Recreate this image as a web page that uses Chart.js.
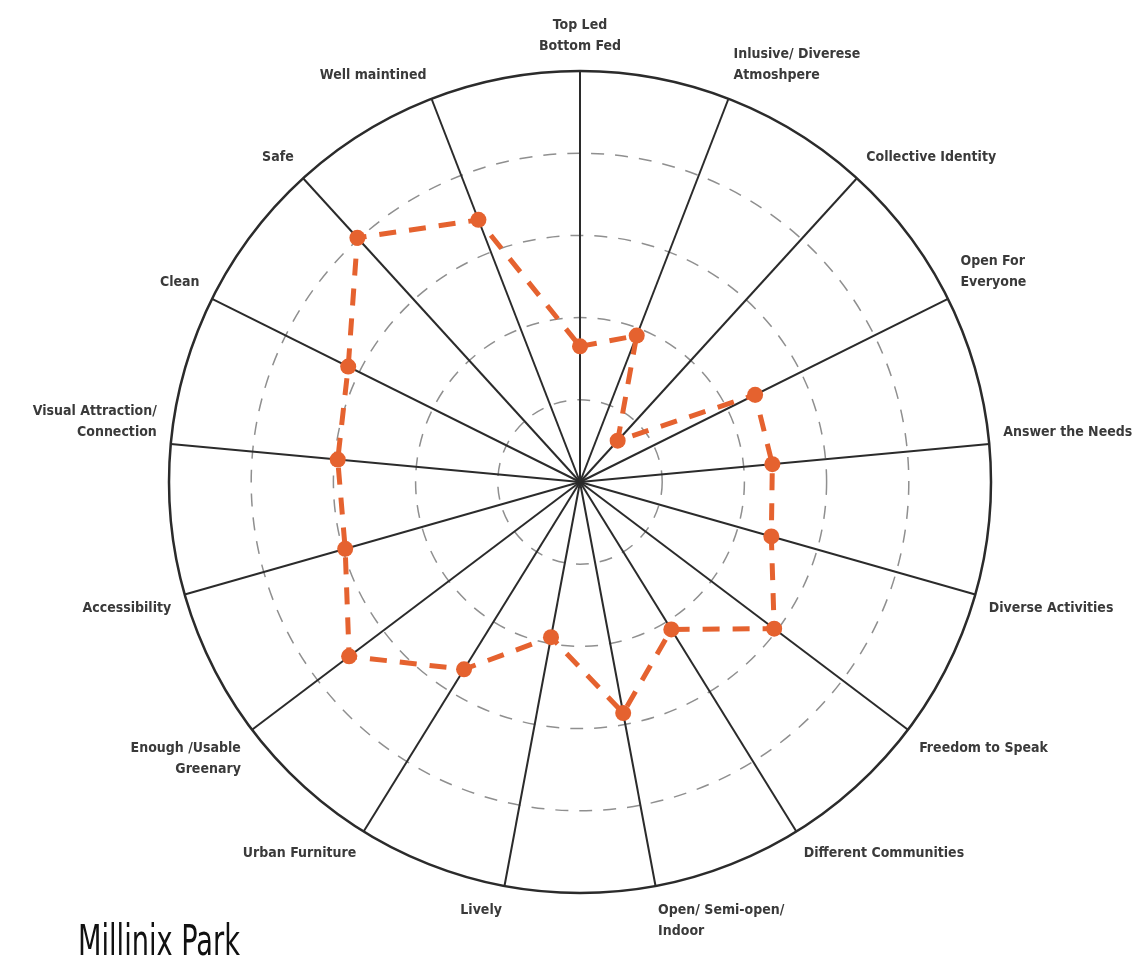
<!DOCTYPE html>
<html>
<head>
<meta charset="utf-8">
<script src="https://cdn.jsdelivr.net/npm/chart.js@4"></script>
<style>
  html, body { margin: 0; padding: 0; background: #fff; }
  #wrap { position: relative; width: 1141px; height: 960px; overflow: hidden; }
  canvas { position: absolute; left: 0; top: 0; }
  #title { position: absolute; left: 78px; top: 920px; font-family: 'DejaVu Sans Condensed', sans-serif; font-size: 42px; color: #111; line-height: 1; transform: scaleX(0.72); transform-origin: 0 0; white-space: nowrap; }
</style>
</head>
<body>
<div id="wrap">
  <canvas id="c" width="1141" height="960"></canvas>
  <div id="title">Millinix Park</div>
</div>
<script>
const categories = [
  ['Top Led', 'Bottom Fed'],
  ['Inlusive/ Diverese', 'Atmoshpere'],
  'Collective Identity',
  ['Open For', 'Everyone'],
  'Answer the Needs',
  'Diverse Activities',
  'Freedom to Speak',
  'Different Communities',
  ['Open/ Semi-open/', 'Indoor'],
  'Lively',
  'Urban Furniture',
  ['Enough /Usable', 'Greenary'],
  'Accessibility',
  ['Visual Attraction/', 'Connection'],
  'Clean',
  'Safe',
  'Well maintined'
];
const scores = [1.65, 1.91, 0.68, 2.38, 2.35, 2.42, 2.96, 2.11, 2.86, 1.92, 2.68, 3.52, 2.97, 2.96, 3.15, 4.02, 3.42];
const scaleMax = 5;

const FONT = "'DejaVu Sans Condensed', sans-serif";
const ORANGE = '#E5622F';

new Chart(document.getElementById('c'), {
  type: 'radar',
  data: {
    labels: categories,
    datasets: [{
      data: scores,
      borderColor: ORANGE,
      borderWidth: 5,
      borderDash: [17, 13],
      fill: false,
      tension: 0,
      pointRadius: 8,
      pointHoverRadius: 8,
      pointBackgroundColor: ORANGE,
      pointBorderWidth: 0
    }]
  },
  options: {
    responsive: false,
    animation: false,
    layout: { padding: { top: 12, bottom: 14, left: 30, right: 4 } },
    plugins: { legend: { display: false }, tooltip: { enabled: false } },
    scales: {
      r: {
        min: 0,
        max: scaleMax,
        ticks: { display: false, stepSize: 1 },
        angleLines: { color: '#2b2b2b', lineWidth: 2 },
        grid: {
          circular: true,
          color: (ctx) => (ctx.tick && ctx.tick.value === scaleMax) ? '#2b2b2b' : '#8f8f8f',
          lineWidth: (ctx) => (ctx.tick && ctx.tick.value === scaleMax) ? 2.5 : 1.5
        },
        border: {
          dash: (ctx) => (ctx.tick && ctx.tick.value === scaleMax) ? [] : [13, 11]
        },
        pointLabels: {
          color: '#3a3a3a',
          padding: 14,
          font: { family: FONT, size: 14, weight: 'bold', lineHeight: 1.5 }
        }
      }
    }
  }
});
</script>
</body>
</html>
